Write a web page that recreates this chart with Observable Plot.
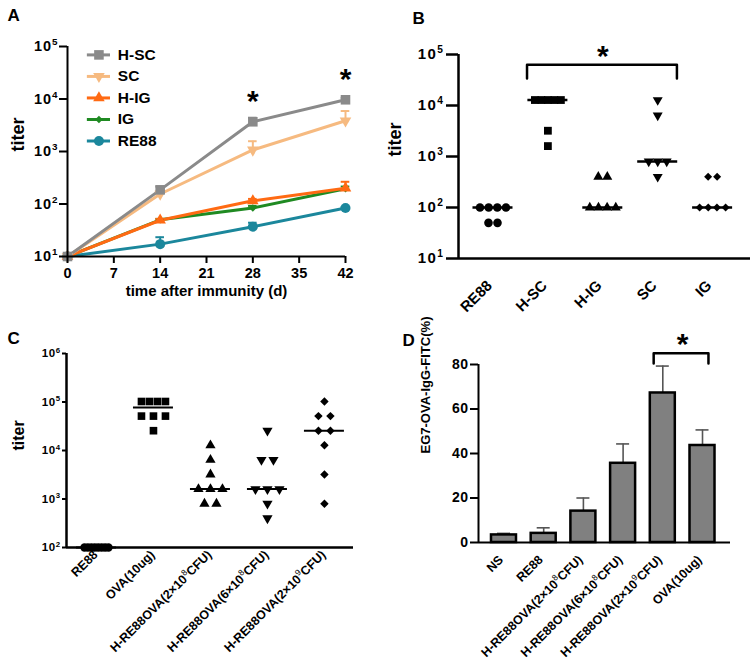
<!DOCTYPE html>
<html><head><meta charset="utf-8">
<script src="https://cdn.jsdelivr.net/npm/d3@7"></script>
<script src="https://cdn.jsdelivr.net/npm/@observablehq/plot@0.6"></script>
<style>
body{margin:0;background:#fff;}
#wrap{position:relative;width:753px;height:672px;overflow:hidden;background:#fff;}
.panel{position:absolute;}
</style></head><body><div id="wrap"></div>
<script>
// ================= DATA =================
// Panel A: titer over time (mean and upper error-bar end)
const days = [0, 14, 28, 42];
const seriesA = ["H-SC", "SC", "H-IG", "IG", "RE88"];
const meanHSC = [10, 186, 3680, 9660];
const upperHSC = [10, 215, 4400, 10500];
const meanSC = [10, 155, 1070, 3850];
const upperSC = [10, 175, 1570, 5900];
const meanHIG = [10, 49, 115, 200];
const upperHIG = [10, 52, 125, 265];
const meanIG = [10, 50, 84, 195];
const upperIG = [10, 52, 92, 215];
const meanRE88 = [10, 17.2, 36.8, 84];
const upperRE88 = [10, 23.3, 44, 88];
const sigDaysA = [28, 42];
const yTicksA = [10, 100, 1000, 10000, 100000];
const xTicksA = [0, 7, 14, 21, 28, 35, 42];

// Panel B: individual titers
const catsB = ["RE88", "H-SC", "H-IG", "SC", "IG"];
const titerB_RE88 = [100, 100, 100, 100, 50, 50];
const titerB_HSC = [12800, 12800, 12800, 12800, 12800, 3200, 1600];
const titerB_HIG = [400, 400, 100, 100, 100, 100];
const titerB_SC = [12800, 6400, 800, 800, 800, 400];
const titerB_IG = [400, 400, 100, 100, 100, 100];
const yTicksB = [10, 100, 1000, 10000, 100000];

// Panel C: individual titers
const catsC = ["RE88", "OVA(10ug)", "H-RE88OVA(2×10^8CFU)", "H-RE88OVA(6×10^8CFU)", "H-RE88OVA(2×10^9CFU)"];
const titerC_RE88 = [100, 100, 100, 100, 100, 100, 100, 100];
const titerC_OVA = [102400, 102400, 102400, 102400, 51200, 51200, 51200, 25600];
const titerC_2e8 = [12800, 6400, 3200, 1600, 1600, 1600, 800, 800];
const titerC_6e8 = [25600, 6400, 6400, 1600, 1600, 1600, 800, 400];
const titerC_2e9 = [102400, 51200, 51200, 25600, 25600, 12800, 3200, 800];
const yTicksC = [100, 1000, 10000, 100000, 1000000];

// Panel D: bar chart (mean and upper error-bar end)
const catsD = ["NS", "RE88", "H-RE88OVA(2×10^8CFU)", "H-RE88OVA(6×10^8CFU)", "H-RE88OVA(2×10^9CFU)", "OVA(10ug)"];
const meanD = [3.4, 4.1, 14.1, 35.6, 67.2, 43.6];
const upperD = [4.1, 6.6, 20.0, 44.3, 79.3, 50.6];
const yTicksD = [0, 20, 40, 60, 80];

// ================= STYLE / HELPERS =================
const FONT = "'Liberation Sans', Arial, Helvetica, sans-serif";
const NS = "http://www.w3.org/2000/svg";
const wrap = document.getElementById("wrap");

const triangleDown = {
  draw(context, size) {
    const y = -Math.sqrt(size / (Math.sqrt(3) * 3));
    context.moveTo(0, -y * 2);
    context.lineTo(-Math.sqrt(3) * y, y);
    context.lineTo(Math.sqrt(3) * y, y);
    context.closePath();
  }
};

const supFmt = d => "10^" + Math.round(Math.log10(d));

function supify(svg) {
  svg.querySelectorAll("text, tspan").forEach(el => {
    if (el.children.length) return;
    const s = el.textContent;
    const m = s.match(/^(.*)\^(\d+)(.*)$/);
    if (!m) return;
    el.textContent = "";
    el.appendChild(document.createTextNode(m[1]));
    const sup = document.createElementNS(NS, "tspan");
    sup.setAttribute("font-size", "68%");
    sup.setAttribute("dy", "-0.6em");
    if (m[1].length > 3) sup.setAttribute("font-weight", "normal");
    sup.textContent = m[2];
    el.appendChild(sup);
    if (m[3]) {
      const post = document.createElementNS(NS, "tspan");
      post.setAttribute("dy", "0.408em");
      post.textContent = m[3];
      el.appendChild(post);
    }
  });
}

function place(svg, left, top, tickSpacing) {
  const d = document.createElement("div");
  d.className = "panel";
  d.style.left = left + "px";
  d.style.top = top + "px";
  d.appendChild(svg);
  wrap.appendChild(d);
  supify(svg);
  if (tickSpacing) {
    svg.querySelectorAll('[aria-label="y-axis tick label"]').forEach(g => g.setAttribute("letter-spacing", tickSpacing));
  }
}

const baseStyle = {fontFamily: FONT, color: "black", background: "transparent", overflow: "visible"};

// scatter layout: spread equal values horizontally (in index units)
function layout(groups, spacingPx, maxSpanPx, stepPx) {
  const rows = [];
  groups.forEach((vals, i) => {
    const byVal = d3.group(vals, v => v);
    for (const [v, arr] of byVal) {
      const k = arr.length;
      const s = k > 1 ? Math.min(spacingPx, maxSpanPx / (k - 1)) : 0;
      arr.forEach((_, j) => rows.push({i, v, x: i + (j - (k - 1) / 2) * s / stepPx}));
    }
  });
  return rows;
}

// ================= PANEL A =================
{
  const seriesVals = {
    "H-SC": [meanHSC, upperHSC], "SC": [meanSC, upperSC], "H-IG": [meanHIG, upperHIG],
    "IG": [meanIG, upperIG], "RE88": [meanRE88, upperRE88]
  };
  const colorA = {"H-SC": "#8a8a8a", "SC": "#f6ba80", "H-IG": "#ff6a13", "IG": "#1f8a22", "RE88": "#1b879c"};
  const symA = {"H-SC": "square", "SC": triangleDown, "H-IG": "triangle", "IG": "diamond2", "RE88": "circle"};
  const rA = {"H-SC": 5.4, "SC": 4.3, "H-IG": 4.3, "IG": 3.4, "RE88": 5.0};
  const drawOrder = ["RE88", "IG", "H-IG", "SC", "H-SC"];
  const marks = [];
  for (const s of drawOrder) {
    const [mean, upper] = seriesVals[s];
    const rows = days.map((d, k) => ({day: d, v: mean[k], u: upper[k]}));
    marks.push(Plot.line(rows, {x: "day", y: "v", stroke: colorA[s], strokeWidth: 3}));
    marks.push(Plot.ruleX(rows, {x: "day", y1: "v", y2: "u", stroke: colorA[s], strokeWidth: 2}));
    marks.push(Plot.ruleY(rows, {y: "u", x1: d => d.day - 0.65, x2: d => d.day + 0.65, stroke: colorA[s], strokeWidth: 2}));
  }
  for (const s of drawOrder) {
    const [mean] = seriesVals[s];
    const rows = days.map((d, k) => ({day: d, v: mean[k]}));
    marks.push(Plot.dot(rows, {x: "day", y: "v", symbol: symA[s], r: rA[s], fill: colorA[s], stroke: "none"}));
  }
  // legend (laid out in data space, top-left of frame)
  seriesA.forEach((s, i) => {
    const ly = Math.pow(10, 4.84 - i * 0.41);
    marks.push(Plot.ruleY([ly], {x1: 3, x2: 6.5, stroke: colorA[s], strokeWidth: 3}));
    marks.push(Plot.dot([ly], {x: 4.75, y: d => d, symbol: symA[s], r: rA[s], fill: colorA[s], stroke: "none"}));
    marks.push(Plot.text([s], {x: 7.6, y: () => ly, text: d => d, textAnchor: "start", fontSize: 15.5, fontWeight: "bold"}));
  });
  const svg = Plot.plot({
    width: 376, height: 330,
    marginLeft: 67, marginRight: 31, marginTop: 46, marginBottom: 74,
    style: baseStyle,
    x: {domain: [0, 42]},
    y: {type: "log", domain: [10, 100000]},
    marks: [
      ...marks,
      Plot.ruleX([0], {stroke: "black", strokeWidth: 2}),
      Plot.ruleY([10], {stroke: "black", strokeWidth: 2}),
      Plot.axisY({ticks: yTicksA, tickFormat: supFmt, tickSize: 8, tickPadding: 1, fontSize: 14.5, fontWeight: "bold", strokeWidth: 2, label: null}),
      Plot.axisX({ticks: xTicksA, tickFormat: d => d, tickSize: 7, tickPadding: 4, fontSize: 14.5, fontWeight: "bold", strokeWidth: 2, label: null}),
      Plot.text(sigDaysA, {x: d => d, y: d => meanHSC[days.indexOf(d)], text: () => "*", dy: -20, fontSize: 30, fontWeight: "bold"}),
      Plot.text(["titer"], {frameAnchor: "left", rotate: -90, dx: -49, fontSize: 18, fontWeight: "bold"}),
      Plot.text(["time after immunity (d)"], {frameAnchor: "bottom", dy: 39, fontSize: 15, fontWeight: "bold"}),
      Plot.text(["A"], {frameAnchor: "top-left", dx: -60, dy: -38, fontSize: 17, fontWeight: "bold"})
    ]
  });
  place(svg, 0, 0, "1");
}

// ================= PANEL B =================
{
  const stepB = 54.9;
  const domB = [-0.628, 4.69];
  const groupsB = [titerB_RE88, titerB_HSC, titerB_HIG, titerB_SC, titerB_IG];
  const rowsB = layout(groupsB, 9, 26, stepB);
  const medB = groupsB.map((g, i) => ({i, m: d3.median(g)}));
  const symB = ["circle", "square", "triangle", triangleDown, "diamond2"];
  const rB = [4.3, 4.4, 3.7, 3.7, 3.6];
  const half = 20 / stepB;
  const bracketTop = 63000, bracketLeg = 34000;
  const svg = Plot.plot({
    width: 377, height: 330,
    marginLeft: 82, marginRight: 3, marginTop: 54, marginBottom: 72,
    style: baseStyle,
    x: {domain: domB, axis: null},
    y: {type: "log", domain: [10, 100000]},
    marks: [
      Plot.ruleX([domB[0]], {stroke: "black", strokeWidth: 2.5}),
      Plot.ruleY([10], {stroke: "black", strokeWidth: 2.5}),
      Plot.axisY({ticks: yTicksB, tickFormat: supFmt, tickSize: 12, tickPadding: 2, fontSize: 15, fontWeight: "bold", strokeWidth: 2.5, label: null}),
      Plot.ruleY(medB, {y: "m", x1: d => d.i - half, x2: d => d.i + half, stroke: "black", strokeWidth: 2.5}),
      ...catsB.map((c, i) => Plot.dot(rowsB.filter(r => r.i === i), {x: "x", y: "v", symbol: symB[i], r: rB[i], fill: "black", stroke: "none"})),
      Plot.line([[1 - 0.38, bracketLeg], [1 - 0.38, bracketTop], [3 + 0.35, bracketTop], [3 + 0.35, bracketLeg]], {stroke: "black", strokeWidth: 2.5}),
      Plot.text(["*"], {x: 2, y: bracketTop, dy: -8, fontSize: 30, fontWeight: "bold"}),
      Plot.text(catsB, {x: (d, i) => i, frameAnchor: "bottom", rotate: -45, textAnchor: "end", dy: 28, dx: 0, fontSize: 15, fontWeight: "bold"}),
      Plot.text(["titer"], {frameAnchor: "left", rotate: -90, dx: -63, fontSize: 18, fontWeight: "bold"}),
      Plot.text(["B"], {frameAnchor: "top-left", dx: -46, dy: -43, fontSize: 17, fontWeight: "bold"})
    ]
  });
  place(svg, 376, 0, "1.5");
}

// ================= PANEL C =================
{
  const stepC = 57.0;
  const domC = [-0.526, 4.51];
  const groupsC = [titerC_RE88, titerC_OVA, titerC_2e8, titerC_6e8, titerC_2e9];
  const rowsC = layout(groupsC, 12, 24, stepC);
  const medC = groupsC.map((g, i) => ({i, m: d3.median(g)}));
  const symC = ["circle", "square", "triangle", triangleDown, "diamond2"];
  const rC = [4.2, 4.3, 3.8, 3.8, 3.8];
  const half = 20 / stepC;
  const svg = Plot.plot({
    width: 376, height: 342,
    marginLeft: 66, marginRight: 23, marginTop: 23, marginBottom: 125,
    style: baseStyle,
    x: {domain: domC, axis: null},
    y: {type: "log", domain: [100, 1000000]},
    marks: [
      Plot.ruleX([domC[0]], {stroke: "black", strokeWidth: 2.5}),
      Plot.ruleY([100], {stroke: "black", strokeWidth: 2.5}),
      Plot.axisY({ticks: yTicksC, tickFormat: supFmt, tickSize: 4, tickPadding: 2, fontSize: 11.5, fontWeight: "bold", strokeWidth: 2, label: null}),
      Plot.ruleY(medC, {y: "m", x1: d => d.i - half, x2: d => d.i + half, stroke: "black", strokeWidth: 2}),
      ...catsC.map((c, i) => Plot.dot(rowsC.filter(r => r.i === i), {x: "x", y: "v", symbol: symC[i], r: rC[i], fill: "black", stroke: "none"})),
      Plot.text(catsC, {x: (d, i) => i, frameAnchor: "bottom", rotate: -45, textAnchor: "end", dy: 8, dx: 2, fontSize: 12.5, fontWeight: "bold"}),
      Plot.text(["titer"], {frameAnchor: "left", rotate: -90, dx: -48, fontSize: 16, fontWeight: "bold"}),
      Plot.text(["C"], {frameAnchor: "top-left", dx: -59, dy: -22, fontSize: 17, fontWeight: "bold"})
    ]
  });
  place(svg, 0, 330, "0.5");
}

// ================= PANEL D =================
{
  const stepD = 39.7;
  const domD = [-0.642, 5.705];
  const rowsD = catsD.map((c, i) => ({i, mean: meanD[i], upper: upperD[i]}));
  const hw = 12.5 / stepD, cw = 6.5 / stepD;
  const bTop = 85.1, bLeg = 80.5;
  const svg = Plot.plot({
    width: 377, height: 342,
    marginLeft: 102, marginRight: 23, marginTop: 34, marginBottom: 130,
    style: baseStyle,
    x: {domain: domD, axis: null},
    y: {domain: [0, 80]},
    marks: [
      Plot.ruleX(rowsD, {x: "i", y1: "mean", y2: "upper", stroke: "#555", strokeWidth: 1.6}),
      Plot.ruleY(rowsD, {y: "upper", x1: d => d.i - cw, x2: d => d.i + cw, stroke: "#555", strokeWidth: 1.6}),
      Plot.rectY(rowsD, {x1: d => d.i - hw, x2: d => d.i + hw, y1: 0, y2: "mean", fill: "#808080", stroke: "black", strokeWidth: 2.5}),
      Plot.ruleX([domD[0]], {stroke: "black", strokeWidth: 2}),
      Plot.ruleY([0], {stroke: "black", strokeWidth: 2}),
      Plot.axisY({ticks: yTicksD, tickSize: 8, tickPadding: 2, fontSize: 14, fontWeight: "bold", strokeWidth: 2, label: null}),
      Plot.line([[4 - 0.23, bLeg], [4 - 0.23, bTop], [5 + 0.15, bTop], [5 + 0.15, bLeg]], {stroke: "black", strokeWidth: 2.5}),
      Plot.text(["*"], {x: 4.5, y: bTop, dy: -9, fontSize: 30, fontWeight: "bold"}),
      Plot.text(catsD, {x: (d, i) => i, frameAnchor: "bottom", rotate: -45, textAnchor: "end", dy: 18, dx: 0, fontSize: 12.5, fontWeight: "bold"}),
      Plot.text(["EG7-OVA-IgG-FITC(%)"], {frameAnchor: "left", rotate: -90, dx: -53, fontSize: 13, fontWeight: "bold"}),
      Plot.text(["D"], {frameAnchor: "top-left", dx: -76, dy: -31, fontSize: 17, fontWeight: "bold"})
    ]
  });
  place(svg, 376, 330, "0.5");
}
</script>
</body></html>
